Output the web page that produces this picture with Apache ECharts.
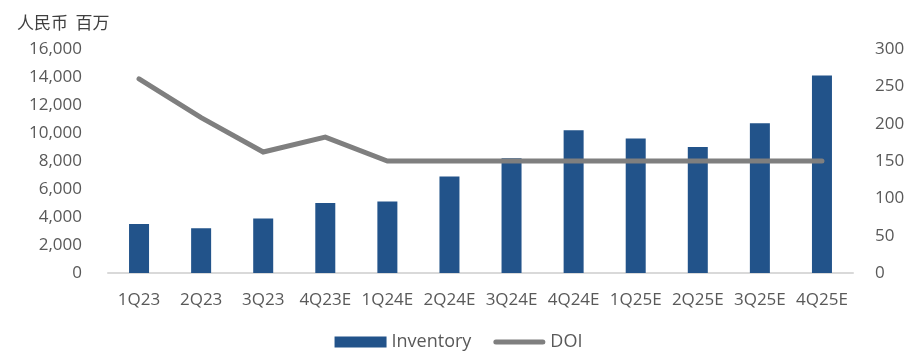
<!DOCTYPE html>
<html><head><meta charset="utf-8">
<script src="https://cdn.jsdelivr.net/npm/echarts@6/dist/echarts.min.js"></script>
<style>html,body{margin:0;padding:0;background:#fff}#c{width:917px;height:354px}</style>
</head><body><div id="c"></div>
<script>
const categories = ['1Q23','2Q23','3Q23','4Q23E','1Q24E','2Q24E','3Q24E','4Q24E','1Q25E','2Q25E','3Q25E','4Q25E'];
const inventory = [3500, 3200, 3900, 5000, 5100, 6900, 8200, 10200, 9600, 9000, 10700, 14100];
const doi = [260, 208, 162, 182, 150, 150, 150, 150, 150, 150, 150, 150];
const unitLabel = '人民币  百万';

const chart = echarts.init(document.getElementById('c'), null, {renderer:'canvas'});
const font = '"Open Sans", "Liberation Sans", sans-serif';
chart.setOption({
  animation:false,
  textStyle:{fontFamily:font},
  title:{text:unitLabel, left:12, top:9, textStyle:{fontFamily:'"Noto Sans CJK SC"', fontSize:17, fontWeight:'normal', color:'#404040'}},
  grid:{left:108, right:64, top:49, bottom:81},
  legend:{bottom:-2, left:'center', itemGap:22, itemWidth:52, itemHeight:11, itemTextGap:5,
    textStyle:{fontSize:18, color:'#595959', fontFamily:font},
    data:[{name:'Inventory', icon:'rect'},
          {name:'DOI', icon:'path://M2.5,0 H49.5 A2.5,2.5 0 0 1 49.5,5 H2.5 A2.5,2.5 0 0 1 2.5,0 Z', itemStyle:{color:'#7F7F7F'}}]},
  xAxis:{type:'category', data:categories,
    axisLine:{lineStyle:{color:'#d9d9d9', width:2}}, axisTick:{show:false},
    axisLabel:{fontSize:17, color:'#595959', margin:19, interval:0, fontFamily:font}},
  yAxis:[
    {type:'value', min:0, max:16000, interval:2000, splitLine:{show:false},
     axisLabel:{fontSize:17, color:'#595959', margin:26, fontFamily:font,
       formatter:v=>v.toLocaleString('en-US')}},
    {type:'value', min:0, max:300, interval:50, splitLine:{show:false},
     axisLabel:{fontSize:17, color:'#595959', margin:22, fontFamily:font}}
  ],
  series:[
    {name:'Inventory', type:'bar', data:inventory, barWidth:20, itemStyle:{color:'#22538A'}},
    {name:'DOI', type:'line', yAxisIndex:1, data:doi, symbol:'none',
     lineStyle:{color:'#7F7F7F', width:5, cap:'round', join:'miter'}, itemStyle:{color:'#7F7F7F'}}
  ]
});
</script></body></html>
